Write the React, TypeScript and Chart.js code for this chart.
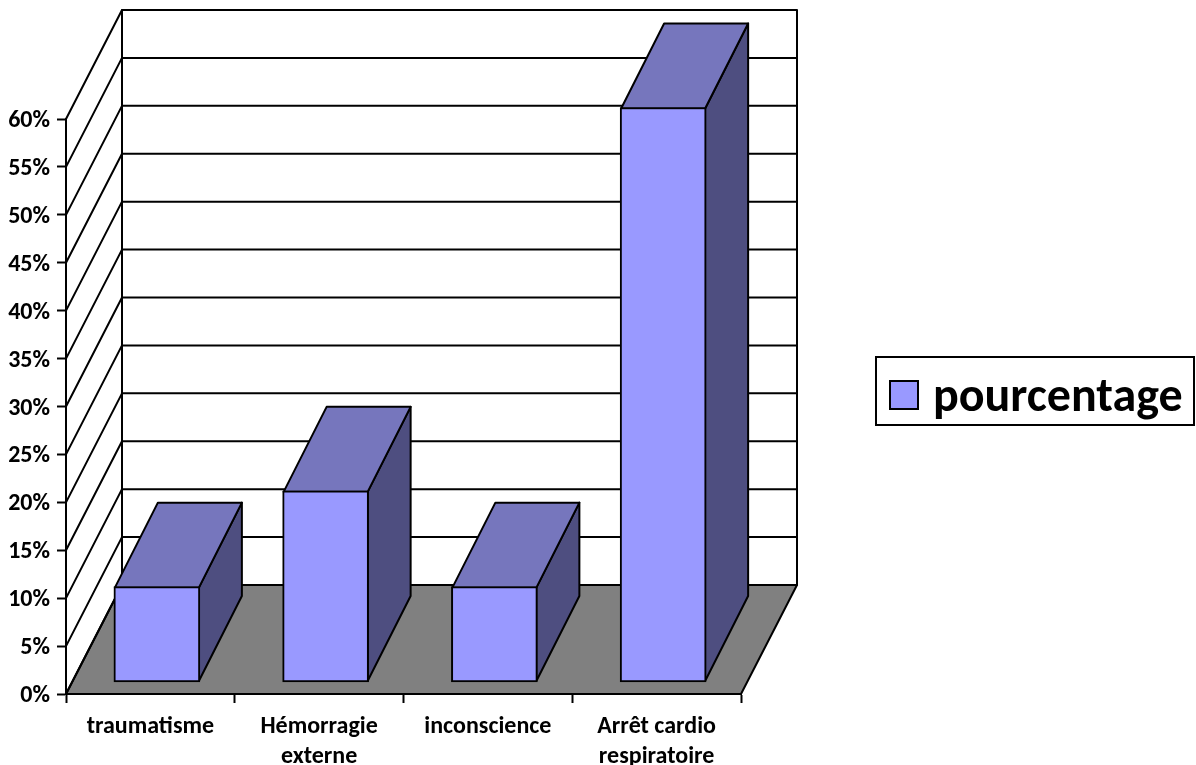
import React, { useEffect, useRef } from "react";
import { Chart, registerables } from "chart.js";

Chart.register(...registerables);

const categories = ["traumatisme", ["Hémorragie", "externe"], "inconscience", ["Arrêt cardio", "respiratoire"]];
const seriesName = "pourcentage";
const percentages = [10, 20, 10, 60];

const FONT = "Carlito, Lato, sans-serif";
const FRONT = "#9999ff";
const TOP = "#7676bd";
const SIDE = "#4e4e80";
const FLOOR = "#808080";

// Perspective of the box: how far the back wall sits from the front plane.
const WALL_DX = 56;
const WALL_DY = -109;
// Bars stand a little behind the front edge of the floor, with their own depth.
const BAR_SHIFT_X = 6.5;
const BAR_SHIFT_Y = -11.5;
const BAR_DX = 43;
const BAR_DY = -85;
const BORDER = 2;

const poly = (ctx: CanvasRenderingContext2D, pts: number[][], fill?: string) => {
  ctx.beginPath();
  pts.forEach(([x, y], i) => (i ? ctx.lineTo(x, y) : ctx.moveTo(x, y)));
  ctx.closePath();
  if (fill) {
    ctx.fillStyle = fill;
    ctx.fill();
  }
  ctx.stroke();
};

const boxPlugin = {
  id: "box3d",
  beforeDraw(chart: any) {
    const { ctx, chartArea: a, scales } = chart;
    const y = scales.y;
    ctx.save();
    ctx.strokeStyle = "#000";
    ctx.lineWidth = 2;
    ctx.lineJoin = "round";
    // floor
    poly(ctx, [
      [a.left, a.bottom],
      [a.right, a.bottom],
      [a.right + WALL_DX, a.bottom + WALL_DY],
      [a.left + WALL_DX, a.bottom + WALL_DY],
    ], FLOOR);
    // back wall outline
    const top = a.top + WALL_DY;
    ctx.strokeRect(a.left + WALL_DX, top, a.right - a.left, a.bottom - a.top);
    // gridlines folded across the side wall and the back wall
    y.ticks.forEach((t: any) => {
      const py = y.getPixelForValue(t.value);
      ctx.beginPath();
      ctx.moveTo(a.left, py);
      ctx.lineTo(a.left + WALL_DX, py + WALL_DY);
      ctx.lineTo(a.right + WALL_DX, py + WALL_DY);
      ctx.stroke();
    });
    ctx.restore();
  },
  beforeDatasetDraw(chart: any, args: any) {
    const { ctx } = chart;
    ctx.save();
    ctx.translate(BAR_SHIFT_X, BAR_SHIFT_Y);
    ctx.save();
    ctx.strokeStyle = "#000";
    ctx.lineWidth = BORDER;
    ctx.lineJoin = "round";
    args.meta.data.forEach((bar: any) => {
      const { x, y, base, width } = bar.getProps(["x", "y", "base", "width"]);
      // the library insets its border, so the faces join on the stroke's centre
      const l = x - width / 2 + BORDER / 2;
      const r = x + width / 2 - BORDER / 2;
      const t = y + BORDER / 2;
      const b = base - BORDER / 2;
      poly(ctx, [[r, t], [r + BAR_DX, t + BAR_DY], [r + BAR_DX, b + BAR_DY], [r, b]], SIDE);
      poly(ctx, [[l, t], [l + BAR_DX, t + BAR_DY], [r + BAR_DX, t + BAR_DY], [r, t]], TOP);
    });
    ctx.restore();
  },
  afterDatasetDraw(chart: any) {
    chart.ctx.restore();
  },
  afterDraw(chart: any) {
    // Framed legend in the right margin
    const { ctx } = chart;
    ctx.save();
    ctx.strokeStyle = "#000";
    ctx.lineWidth = 2;
    ctx.fillStyle = "#fff";
    ctx.fillRect(876, 357, 318, 68);
    ctx.strokeRect(876, 357, 318, 68);
    ctx.fillStyle = FRONT;
    ctx.fillRect(890, 381, 28, 28);
    ctx.strokeRect(890, 381, 28, 28);
    ctx.fillStyle = "#000";
    ctx.font = `bold 48px ${FONT}`;
    ctx.textAlign = "left";
    ctx.textBaseline = "alphabetic";
    ctx.fillText(chart.data.datasets[0].label, 933, 411);
    ctx.restore();
  },
};

export default function App() {
  const ref = useRef<HTMLCanvasElement>(null);
  useEffect(() => {
    const chart = new Chart(ref.current as HTMLCanvasElement, {
      type: "bar",
      data: {
        labels: categories as any,
        datasets: [
          {
            label: seriesName,
            data: percentages,
            backgroundColor: FRONT,
            borderColor: "#000",
            borderWidth: BORDER,
            borderSkipped: false,
            barThickness: 86,
            clip: false as any,
          },
        ],
      },
      options: {
        animation: false,
        responsive: false,
        layout: { padding: { left: 0, top: 119, right: 455, bottom: 0 } },
        plugins: { legend: { display: false }, tooltip: { enabled: false } },
        scales: {
          x: {
            offset: true,
            afterFit: (s: any) => {
              s.height = 71;
            },
            grid: { drawOnChartArea: false, color: "#000", tickLength: 9, tickWidth: 2 },
            border: { color: "#000", width: 2 },
            ticks: {
              color: "#000",
              padding: 9,
              maxRotation: 0,
              autoSkip: false,
              font: { family: FONT, size: 24, weight: "bold", lineHeight: 1.25 },
            },
          },
          y: {
            min: 0,
            max: 60,
            afterFit: (s: any) => {
              s.width = 66;
            },
            grid: { drawOnChartArea: false, color: "#000", tickLength: 9, tickWidth: 2 },
            border: { color: "#000", width: 2 },
            ticks: {
              stepSize: 5,
              color: "#000",
              padding: 7,
              labelOffset: 2,
              callback: (v: any) => `${v}%`,
              font: { family: FONT, size: 24, weight: "bold" },
            },
          },
        },
      },
      plugins: [boxPlugin],
    });
    return () => chart.destroy();
  }, []);
  return (
    <canvas
      ref={ref}
      width={1196}
      height={765}
      style={{ position: "fixed", left: 0, top: 0, width: 1196, height: 765, background: "#fff" }}
    />
  );
}
